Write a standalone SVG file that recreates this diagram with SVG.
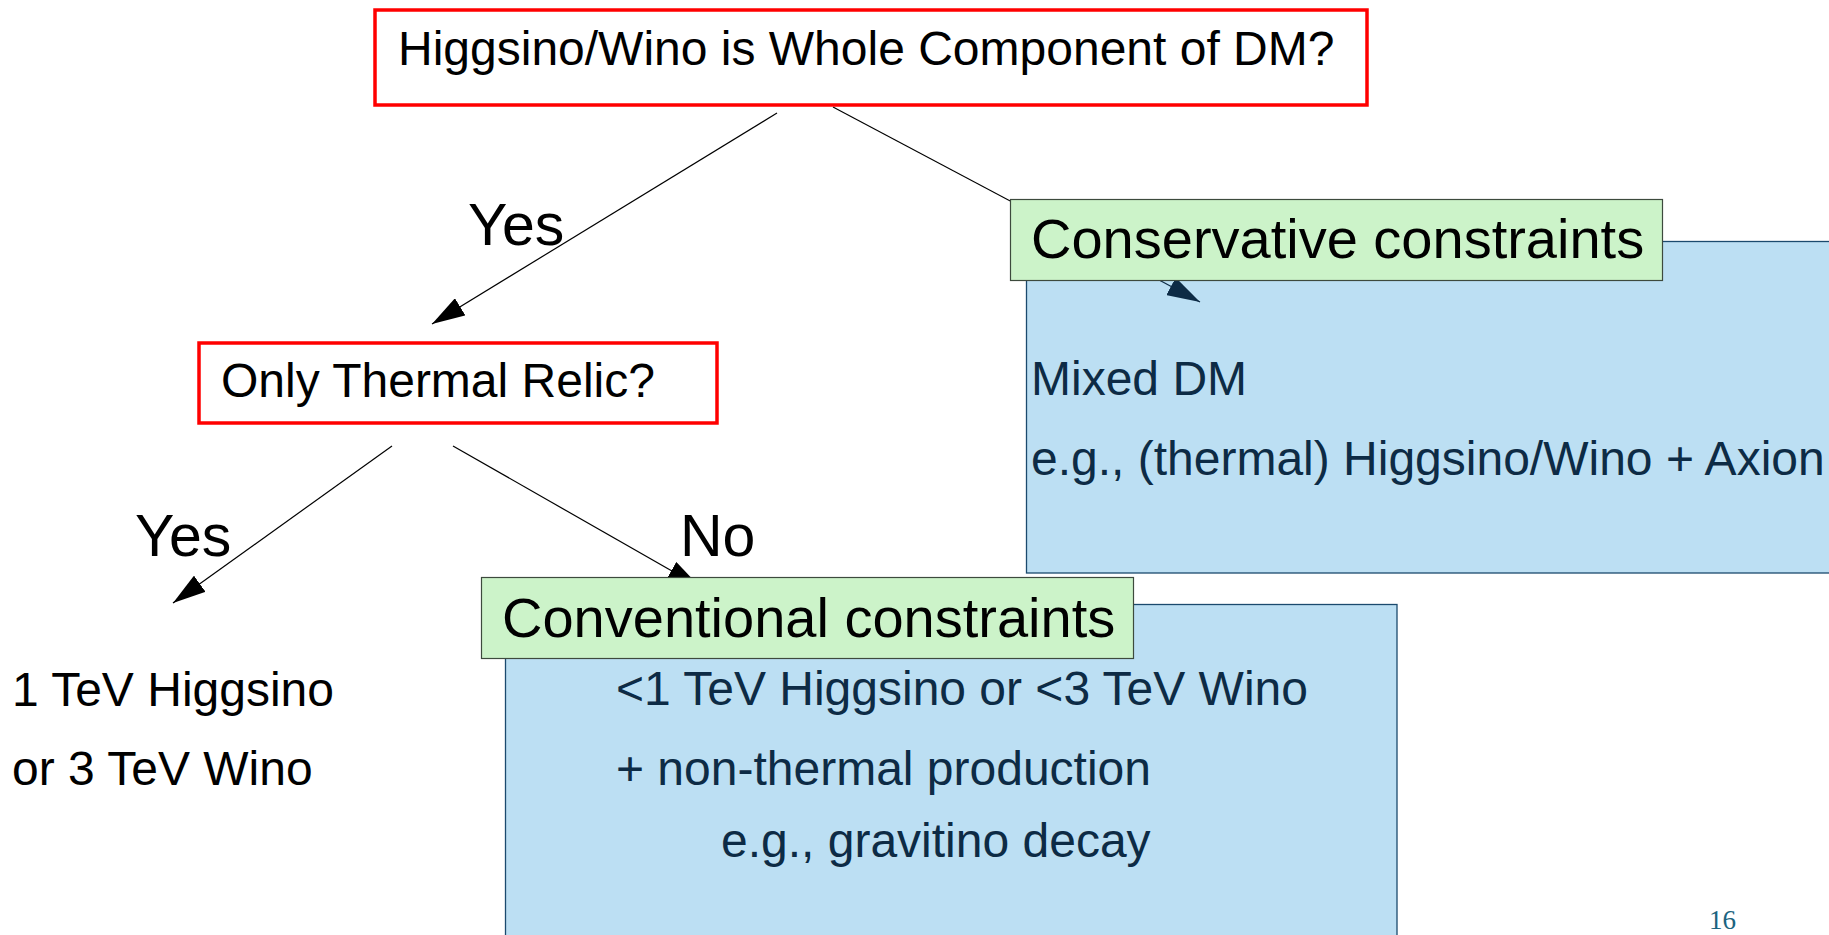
<svg xmlns="http://www.w3.org/2000/svg" width="1829" height="935" viewBox="0 0 1829 935">
<style>
text{font-family:"Liberation Sans",Arial,sans-serif;fill:#000}
.q{fill:#fff;stroke:#ff0000;stroke-width:3.5}
.lbl{fill:#ccf3c9;stroke:#3d4a3d;stroke-width:1.2}
.box{fill:#bcdff3;stroke:#1b4a6e;stroke-width:1.3}
.nv{fill:#0d2b45}
.c{fill:none;stroke:#000;stroke-width:1.2}
.cn{fill:none;stroke:#0d2b45;stroke-width:1.2}
.t48{font-size:48px}
.t54{font-size:59px}
.t56{font-size:56px}
</style>
<defs>
<marker id="ah" viewBox="0 0 33 20" refX="33" refY="10" markerWidth="33" markerHeight="20" markerUnits="userSpaceOnUse" orient="auto"><path d="M0,0 L33,10 L0,20 z" fill="#000"/></marker>
<marker id="ahn" viewBox="0 0 33 20" refX="33" refY="10" markerWidth="33" markerHeight="20" markerUnits="userSpaceOnUse" orient="auto"><path d="M0,0 L33,10 L0,20 z" fill="#0d2b45"/></marker>
</defs>
<rect width="1829" height="935" fill="#fff"/>

<g id="mixed-dm">
<rect class="box" x="1026.5" y="241.5" width="1301" height="331.5"/>
<text class="t48 nv" x="1031" y="395">Mixed DM</text>
<text class="t48 nv" x="1031" y="475">e.g., (thermal) Higgsino/Wino + Axion</text>
</g>

<g id="non-thermal">
<rect class="box" x="505.5" y="604.5" width="891.5" height="345"/>
<text class="t48 nv" x="616" y="705">&lt;1 TeV Higgsino or &lt;3 TeV Wino</text>
<text class="t48 nv" x="616" y="785">+ non-thermal production</text>
<text class="t48 nv" x="721" y="857">e.g., gravitino decay</text>
</g>

<g id="connectors">
<path class="c" d="M777,113 L432,324" marker-end="url(#ah)"/>
<path class="c" d="M833,107 L1161,281"/>
<path class="cn" d="M1161,281 L1200,302" marker-end="url(#ahn)"/>
<path class="c" d="M392,446 L173,603" marker-end="url(#ah)"/>
<path class="c" d="M453,446 L700,587" marker-end="url(#ah)"/>
<text class="t54" x="468" y="245">Yes</text>
<text class="t54" x="135" y="556">Yes</text>
<text class="t54" x="680" y="556">No</text>
</g>

<g id="q-whole">
<rect class="q" x="375" y="10" width="992" height="95"/>
<text class="t48" x="398" y="65">Higgsino/Wino is Whole Component of DM?</text>
</g>

<g id="q-thermal">
<rect class="q" x="199" y="343" width="518" height="80"/>
<text class="t48" x="221" y="397">Only Thermal Relic?</text>
</g>

<g id="thermal-result">
<text class="t48" x="12" y="706">1 TeV Higgsino</text>
<text class="t48" x="12" y="785">or 3 TeV Wino</text>
</g>

<g id="conservative">
<rect class="lbl" x="1010.5" y="199.5" width="652" height="81"/>
<text class="t56" x="1031" y="258">Conservative constraints</text>
</g>

<g id="conventional">
<rect class="lbl" x="481.5" y="577.5" width="652" height="81"/>
<text class="t56" x="502" y="637">Conventional constraints</text>
</g>

<text x="1709" y="929" font-size="27" style="font-family:'Liberation Serif',serif;fill:#1c6480">16</text>
</svg>
